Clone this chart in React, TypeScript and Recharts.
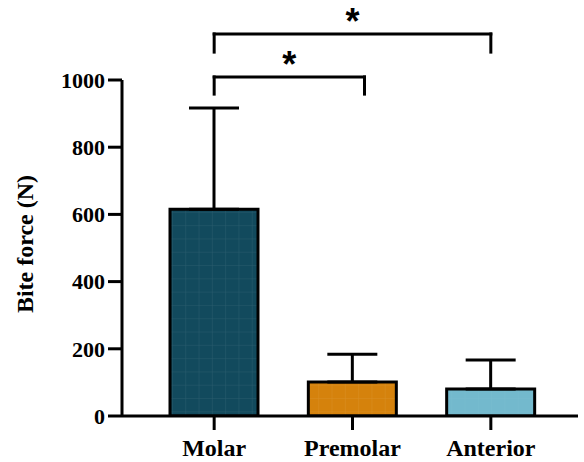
import React from 'react';
import { BarChart, Bar, XAxis, YAxis, Cell, ErrorBar, ReferenceLine } from 'recharts';

const groups = ['Molar', 'Premolar', 'Anterior'];
const means = [615, 101, 80];
const sdUpper = [302, 83, 87];
const yTicks = [0, 200, 400, 600, 800, 1000];

// significance brackets: [from, to, bar level, leg end, label]
const brackets: [string, string, number, number, string][] = [
  ['Molar', 'Premolar', 1009, 958, '*'],
  ['Molar', 'Anterior', 1137, 1083, '*'],
];
// the short bracket ends a little right of the Premolar tick
const rightNudge = [12, 0];

const fills = ['#124a5d', '#d5820c', '#73b9cd'];
const gridLines = ['rgba(255,255,255,0.10)', 'rgba(255,255,255,0.10)', 'rgba(255,255,255,0.04)'];

const data = groups.map((g, i) => ({ name: g, value: means[i], err: [0, sdUpper[i]] }));

const font = '"Liberation Serif", "Times New Roman", serif';

const YLabel = (props: any) => {
  const { viewBox } = props;
  const x = viewBox.x + 25;
  const y = viewBox.y + viewBox.height / 2 - 4;
  return (
    <text x={x} y={y} transform={`rotate(-90, ${x}, ${y})`} textAnchor="middle" dominantBaseline="central"
      fontFamily={font} fontWeight="bold" fontSize={24} fill="#000">
      Bite force (N)
    </text>
  );
};

const nudged = (dx1: number, dx2: number) => (p: any) => (
  <line x1={p.x1 + dx1} y1={p.y1} x2={p.x2 + dx2} y2={p.y2} stroke="#000" strokeWidth={3} strokeLinecap="square" />
);

export default function App() {
  return (
    <div style={{ position: 'absolute', left: 0, top: 0, background: '#fff' }}>
      <BarChart width={584} height={462} data={data} margin={{ top: 80, right: 6, bottom: 0, left: 0 }}>
        <defs>
          {fills.map((c, i) => (
            <pattern key={i} id={`tex-${i}`} patternUnits="userSpaceOnUse" width={13.3} height={13.3}>
              <rect width={13.3} height={13.3} fill={c} />
              <path d="M 13.3 0 L 13.3 13.3 M 0 13.3 L 13.3 13.3" stroke={gridLines[i]} strokeWidth={1} />
            </pattern>
          ))}
        </defs>
        <XAxis
          dataKey="name"
          height={46}
          padding={{ left: 23, right: 18 }}
          axisLine={{ stroke: '#000', strokeWidth: 3 }}
          tickLine={{ stroke: '#000', strokeWidth: 3 }}
          tickSize={14}
          tickMargin={9}
          tick={{ fill: '#000', fontFamily: font, fontWeight: 'bold', fontSize: 24 }}
        />
        <YAxis
          width={122}
          domain={[0, 1000]}
          ticks={yTicks}
          interval={0}
          allowDataOverflow
          axisLine={{ stroke: '#000', strokeWidth: 3 }}
          tickLine={{ stroke: '#000', strokeWidth: 3 }}
          tickSize={14}
          tickMargin={3}
          tick={{ fill: '#000', fontFamily: font, fontWeight: 'bold', fontSize: 22 }}
          label={<YLabel />}
        />
        <Bar dataKey="value" barSize={88} stroke="#000" strokeWidth={3} isAnimationActive={false}>
          {data.map((d, i) => (
            <Cell key={d.name} fill={`url(#tex-${i})`} />
          ))}
          <ErrorBar dataKey="err" direction="y" width={25} stroke="#000" strokeWidth={3} />
        </Bar>
        {brackets.map(([a, b, top, bottom, mark], i) => (
          <React.Fragment key={i}>
            <ReferenceLine
              segment={[{ x: a, y: top }, { x: b, y: top }]}
              shape={nudged(0, rightNudge[i])}
              ifOverflow="visible"
              label={{ value: mark, position: 'top', offset: 0, dx: rightNudge[i] / 2, fill: '#000', fontSize: 36, fontWeight: 'bold', fontFamily: '"Liberation Sans", Arial, sans-serif' }}
            />
            <ReferenceLine segment={[{ x: a, y: top }, { x: a, y: bottom }]} shape={nudged(0, 0)} ifOverflow="visible" />
            <ReferenceLine segment={[{ x: b, y: top }, { x: b, y: bottom }]} shape={nudged(rightNudge[i], rightNudge[i])} ifOverflow="visible" />
          </React.Fragment>
        ))}
      </BarChart>
    </div>
  );
}
